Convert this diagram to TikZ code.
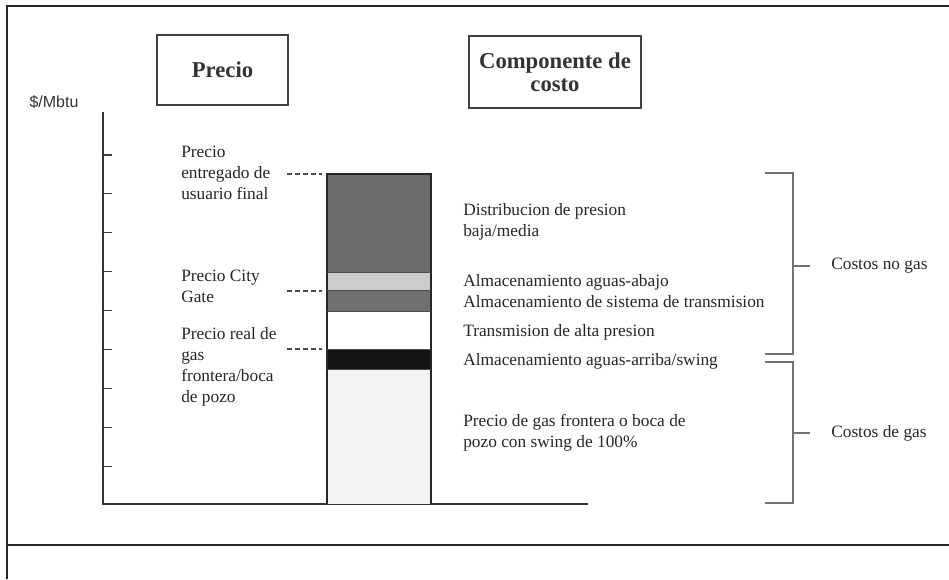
\documentclass[tikz,border=0pt]{standalone}
\usepackage{fontspec}
\setmainfont{Liberation Serif}
\newfontfamily\arialfont{Liberation Sans}
\begin{document}
\begin{tikzpicture}[x=0.75pt,y=-0.75pt,
  frameline/.style={draw=black!85, line width=1.2pt},
  headbox/.style={draw=black!75, line width=0.9pt, inner sep=0pt, align=center,
     font=\fontsize{17}{17.5}\selectfont\bfseries, text=black!80},
  lbl/.style={font=\fontsize{13}{15.75}\selectfont, text=black!85, inner sep=0pt, align=left},
  axisline/.style={draw=black!80, line width=0.9pt},
  tickline/.style={draw=black!75, line width=0.8pt},
  dashline/.style={draw=black!70, line width=0.9pt, dash pattern=on 3.5pt off 2.5pt},
  brk/.style={draw=black!55, line width=1.2pt}]
\useasboundingbox (0,0) rectangle (949,579);

% frame
\draw[frameline] (7,579) -- (7,6) -- (949,6);
\draw[frameline] (7,545) -- (949,545);

% header boxes
\node[headbox, minimum width=98.25pt, minimum height=52.5pt] (hprecio) at (222.5,70) {Precio};
\node[headbox, minimum width=129pt, minimum height=54pt] (hcomp) at (555,72) {Componente de\\costo};

% unit label
\node[font=\arialfont\fontsize{12}{14}\selectfont, text=black!80, inner sep=0pt] (unit) at (54,102) {\$/Mbtu};

% axes
\coordinate (ytop) at (103,112);
\coordinate (orig) at (103,504);
\coordinate (xend) at (588,504);
\draw[axisline] (ytop) -- (orig) -- (xend);
\foreach \k in {0,...,8} {
  \draw[tickline] (103,155+38.9*\k) -- (112,155+38.9*\k);
}

% stacked bar
\fill[black!58] (327,174) rectangle (431,272);
\fill[black!20] (327,272) rectangle (431,290);
\fill[black!56] (327,290) rectangle (431,311);
\fill[white]    (327,311) rectangle (431,349);
\fill[black!92] (327,349) rectangle (431,369);
\fill[black!5]  (327,369) rectangle (431,504);
\draw[draw=black!85, line width=0.8pt] (327,504) -- (327,174) -- (431,174) -- (431,504);
\foreach \yy in {272,290,311,349,369} {
  \draw[draw=black!70, line width=0.6pt] (327,\yy) -- (431,\yy);
}

% left labels (base anchor = baseline of the last line)
\node[lbl, anchor=base west] (lp1) at (181,199) {Precio\\entregado de\\usuario final};
\node[lbl, anchor=base west] (lp2) at (181,302) {Precio City\\Gate};
\node[lbl, anchor=base west] (lp3) at (181,402) {Precio real de\\gas\\frontera/boca\\de pozo};

% dashed leaders
\coordinate (d1a) at (287,174); \coordinate (d1b) at (322,174);
\coordinate (d2a) at (287,291); \coordinate (d2b) at (322,291);
\coordinate (d3a) at (287,349); \coordinate (d3b) at (322,349);
\draw[dashline] (d1a) -- (d1b);
\draw[dashline] (d2a) -- (d2b);
\draw[dashline] (d3a) -- (d3b);

% right labels
\node[lbl, anchor=base west] (c1) at (463,236) {Distribucion de presion\\baja/media};
\node[lbl, anchor=base west] (c2) at (463,286) {Almacenamiento aguas-abajo};
\node[lbl, anchor=base west] (c3) at (463,307) {Almacenamiento de sistema de transmision};
\node[lbl, anchor=base west] (c4) at (463,336) {Transmision de alta presion};
\node[lbl, anchor=base west] (c5) at (463,365) {Almacenamiento aguas-arriba/swing};
\node[lbl, anchor=base west] (c6) at (463,447) {Precio de gas frontera o boca de\\pozo con swing de 100\%};

% brackets
\draw[brk] (765,173) -- (793,173) -- (793,354) -- (765,354);
\coordinate (b1m) at (793,266);
\coordinate (b1t) at (810,266);
\draw[brk] (b1m) -- (b1t);
\node[lbl, anchor=west] (nogas) at (831,266) {Costos no gas};

\draw[brk] (765,362) -- (793,362) -- (793,503) -- (765,503);
\coordinate (b2m) at (793,433);
\coordinate (b2t) at (810,433);
\draw[brk] (b2m) -- (b2t);
\node[lbl, anchor=west] (gas) at (831,433) {Costos de gas};
\end{tikzpicture}
\end{document}
